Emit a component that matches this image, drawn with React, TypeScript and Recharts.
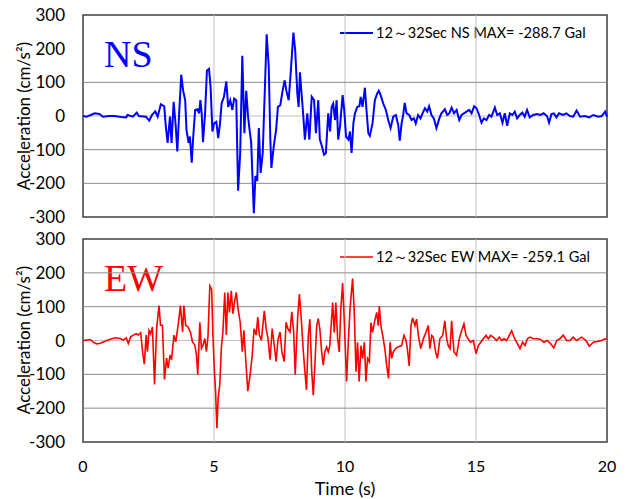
import React from 'react';
import { LineChart, Line, XAxis, YAxis, ReferenceLine, ReferenceArea, Customized } from 'recharts';

const yTicks = [-300, -200, -100, 0, 100, 200, 300];
const xTicks = [0, 5, 10, 15, 20];
const nsGridDark = [100, -100, -200];
const ewGridDark = [200, 100, -100, -200];
const zeroGrid = [0];
const timeGrid = [5, 10, 15];

const nsLegend = '12～32Sec NS MAX= -288.7 Gal';
const ewLegend = '12～32Sec EW MAX= -259.1 Gal';

const nsTime = [
  0, 0.13, 0.3, 0.44, 0.63, 0.76, 1.0, 1.2, 1.45, 1.65, 1.7, 1.9, 2.05, 2.13, 2.4, 2.53, 2.63, 2.76, 2.85, 2.97,
  3.1, 3.16, 3.23, 3.32, 3.38, 3.46, 3.54, 3.6, 3.67, 3.75, 3.82, 3.9, 3.95, 4.03, 4.08, 4.15, 4.2, 4.28, 4.37, 4.43,
  4.48, 4.53, 4.58, 4.66, 4.73, 4.81, 4.87, 4.94, 5.0, 5.09, 5.16, 5.23, 5.29, 5.38, 5.47, 5.54, 5.62, 5.7, 5.77, 5.85,
  5.92, 6.0, 6.08, 6.16, 6.23, 6.3, 6.35, 6.42, 6.52, 6.58, 6.65, 6.71, 6.78, 6.86, 6.96, 7.01, 7.09, 7.15, 7.19, 7.28,
  7.37, 7.44, 7.53, 7.62, 7.7, 7.76, 7.85, 7.92, 8.03, 8.1, 8.18, 8.23, 8.28, 8.41, 8.47, 8.56, 8.64, 8.73, 8.82, 8.89,
  8.98, 9.04, 9.12, 9.2, 9.27, 9.36, 9.43, 9.49, 9.55, 9.62, 9.68, 9.74, 9.81, 9.91, 9.97, 10.04, 10.13, 10.19, 10.25, 10.32,
  10.38, 10.47, 10.55, 10.6, 10.67, 10.76, 10.82, 10.89, 10.95, 11.05, 11.14, 11.23, 11.29, 11.36, 11.46, 11.56, 11.65, 11.74, 11.84, 11.94,
  12.03, 12.09, 12.16, 12.22, 12.28, 12.35, 12.45, 12.54, 12.63, 12.7, 12.79, 12.88, 12.96, 13.05, 13.14, 13.21, 13.3, 13.39, 13.49, 13.6,
  13.68, 13.81, 13.9, 13.98, 14.07, 14.16, 14.26, 14.36, 14.45, 14.54, 14.64, 14.74, 14.83, 14.93, 15.02, 15.12, 15.21, 15.3, 15.4, 15.5,
  15.59, 15.72, 15.81, 15.91, 16.01, 16.1, 16.19, 16.29, 16.39, 16.48, 16.57, 16.67, 16.77, 16.86, 16.95, 17.05, 17.18, 17.33, 17.46, 17.58,
  17.71, 17.79, 17.88, 17.97, 18.07, 18.17, 18.32, 18.45, 18.58, 18.71, 18.84, 18.97, 19.16, 19.32, 19.48, 19.67, 19.8, 19.93, 20.0,
];
const nsAccel = [
  0, -2, 3, 8, 6, -2, 0, 0, -3, -4, 3, -2, 10, 0, -2, -14, 3, 14, -2, 35,
  29, -31, -80, -2, -80, 42, -31, -105, 8, 123, 76, 47, -41, -80, -61, -139, -70, 18, 20, 8,
  47, 8, -78, 8, 135, 140, 86, -46, -22, -17, -66, -22, 37, 57, 103, 27, 47, 18, 52, 47,
  -222, -110, 179, -51, 75, -2, -36, -80, -289, -178, -193, -36, -169, -110, 125, 243, 145, -70, -154, -90,
  -41, 27, 32, 76, 106, 76, 47, 120, 248, 194, 67, 27, 130, -2, -70, 8, -70, 57, 47, -51,
  47, -70, -90, -115, -110, 8, -46, 27, 37, -12, 47, -70, -31, 62, 18, -61, -70, -46, -110, -22,
  8, 27, 29, 57, 27, 84, 18, -51, -59, -22, 47, 67, 75, 62, 37, 18, -12, -36, -2, 3,
  -26, -73, -22, 3, 39, 8, 3, -12, -7, -22, 3, -7, 8, 23, 13, 29, 3, -7, -36, -7,
  8, 20, 3, 8, 25, 8, 18, -12, 3, 8, 13, 18, 8, 29, 23, 3, -20, -7, -12, 3,
  -2, 25, 3, 8, -20, 8, -29, 8, 3, 13, -7, 3, 10, -2, 18, -4, 3, 6, 3, 8,
  0, -20, 6, 8, -4, 8, 3, 8, 0, -2, 16, -2, 0, -4, 3, -2, 0, 13, -2,
];

const ewTime = [
  0, 0.13, 0.28, 0.41, 0.53, 0.66, 0.85, 1.04, 1.23, 1.42, 1.54, 1.65, 1.73, 1.82, 1.92, 2.03, 2.11, 2.2, 2.28, 2.34,
  2.41, 2.46, 2.52, 2.58, 2.65, 2.73, 2.81, 2.9, 2.96, 3.03, 3.11, 3.19, 3.25, 3.32, 3.38, 3.47, 3.54, 3.63, 3.72, 3.8,
  3.85, 3.92, 4.01, 4.1, 4.18, 4.27, 4.33, 4.38, 4.46, 4.52, 4.58, 4.65, 4.71, 4.77, 4.84, 4.91, 4.96, 5.01, 5.06, 5.11,
  5.16, 5.22, 5.28, 5.34, 5.41, 5.47, 5.53, 5.59, 5.66, 5.72, 5.78, 5.85, 5.92, 6.0, 6.08, 6.14, 6.2, 6.29, 6.38, 6.46,
  6.53, 6.61, 6.67, 6.73, 6.81, 6.92, 6.99, 7.06, 7.14, 7.22, 7.3, 7.37, 7.44, 7.52, 7.59, 7.68, 7.75, 7.82, 7.9, 7.97,
  8.04, 8.1, 8.19, 8.26, 8.34, 8.41, 8.47, 8.53, 8.6, 8.66, 8.73, 8.79, 8.85, 8.92, 8.98, 9.04, 9.11, 9.17, 9.23, 9.3,
  9.36, 9.42, 9.53, 9.59, 9.65, 9.72, 9.78, 9.84, 9.91, 9.98, 10.06, 10.12, 10.19, 10.29, 10.35, 10.42, 10.48, 10.54, 10.61, 10.67,
  10.74, 10.8, 10.86, 10.93, 10.99, 11.05, 11.12, 11.21, 11.27, 11.31, 11.37, 11.46, 11.52, 11.59, 11.66, 11.72, 11.78, 11.84, 11.93, 12.03,
  12.16, 12.25, 12.33, 12.38, 12.45, 12.52, 12.58, 12.67, 12.73, 12.8, 12.89, 12.99, 13.09, 13.18, 13.24, 13.31, 13.37, 13.46, 13.53, 13.62,
  13.73, 13.81, 13.88, 13.94, 14.01, 14.07, 14.16, 14.26, 14.36, 14.45, 14.54, 14.62, 14.7, 14.79, 14.9, 15.0, 15.09, 15.18, 15.28, 15.38,
  15.47, 15.56, 15.66, 15.79, 15.89, 15.98, 16.07, 16.17, 16.27, 16.36, 16.45, 16.55, 16.68, 16.78, 16.87, 16.96, 17.06, 17.19, 17.34, 17.47,
  17.59, 17.72, 17.85, 17.97, 18.08, 18.2, 18.33, 18.46, 18.59, 18.71, 18.84, 19.03, 19.2, 19.32, 19.48, 19.63, 19.79, 19.92, 20.0,
];
const ewAccel = [
  0, 1, 3, -6, -10, -8, -2, 4, 8, 6, 1, 8, -9, 11, 16, 20, 16, 23, -38, -70,
  16, -33, 30, 20, 40, -130, 35, 103, 45, 45, -115, -52, -82, -43, -57, 16, -4, 45, 103, 25,
  103, 45, 40, 25, -4, -14, -43, -101, 54, -23, -14, 6, -33, 11, 161, 151, 16, -82, -150, -259,
  -169, -130, -23, 25, 142, 16, 142, 83, 147, 79, 113, 142, 93, 54, -33, 30, -43, -150, -101, -43,
  35, 16, 69, 16, 1, 88, 35, 6, -57, 35, -14, -62, 1, 25, -33, -62, 54, 35, 25, 85,
  25, -101, 64, 137, 53, -34, -92, -146, 15, 63, -92, -162, -73, 44, 65, 34, -34, -73, -34, -19,
  -34, -15, 112, 24, 112, 5, -34, 92, 170, 44, -121, -15, 92, 183, 92, -92, -5, -121, -15, -53,
  -5, -121, -53, -63, 53, 24, 53, 83, 44, 102, 44, 5, -24, -73, -112, -5, -53, -34, -24, -19,
  -15, 15, 0, -24, -75, 44, 67, 44, 63, 15, -24, 5, 24, 44, -24, 15, 10, -34, -53, 5,
  15, 58, 5, -15, -24, 58, -34, -44, 5, 29, 49, 15, 5, -5, 0, -39, -15, -5, 5, 15,
  5, 15, 10, 0, 10, 0, 5, 0, 15, 29, 10, -5, -24, -5, -15, 5, 10, 5, 5, 3,
  -5, 0, -10, -22, 0, 5, 16, 0, 0, 10, 0, 10, 0, -17, -5, -3, 0, 5, 3,
];

const nsData = nsTime.map((t, i) => ({ t, a: nsAccel[i] }));
const ewData = ewTime.map((t, i) => ({ t, a: ewAccel[i] }));

const FONT = 'Lato, "Liberation Sans", sans-serif';
const DARK_GRID = '#8c8c8c';
const LIGHT_GRID = '#c0c0c0';

function gridLines(dark: number[]) {
  return [
    ...zeroGrid.map((v) => <ReferenceLine key={'z' + v} y={v} stroke={LIGHT_GRID} strokeWidth={1} />),
    ...timeGrid.map((v) => <ReferenceLine key={'t' + v} x={v} stroke={LIGHT_GRID} strokeWidth={1} />),
    ...dark.map((v) => <ReferenceLine key={'d' + v} y={v} stroke={DARK_GRID} strokeWidth={1} />),
  ];
}

function Panel({
  data, color, strokeWidth, name, legend, bottom, gridDark, chartTop, height,
}: any) {
  const marginTop = bottom ? 14 : 15;
  return (
    <div style={{ position: 'absolute', left: 0, top: chartTop, width: 626, height }}>
      <LineChart
        width={626}
        height={height}
        data={data}
        margin={{ top: marginTop, right: 19, bottom: bottom ? 0 : 13, left: 0 }}
      >
        <XAxis
          dataKey="t"
          type="number"
          domain={[0, 20]}
          ticks={xTicks}
          hide={!bottom}
          height={57}
          tickLine={false}
          axisLine={false}
          tickMargin={13}
          tick={{ fontSize: 16, fill: '#000', fontFamily: FONT }}
          interval={0}
        />
        <YAxis
          type="number"
          domain={[-300, 300]}
          ticks={yTicks}
          width={83}
          tickLine={false}
          axisLine={false}
          tickMargin={12}
          interval={0}
          allowDataOverflow
          tick={{ fontSize: 17, fill: '#000', fontFamily: FONT }}
        />
        {gridLines(gridDark)}
        <ReferenceArea x1={0} x2={20} y1={-300} y2={300} fill="none" fillOpacity={0} stroke="#404040" strokeWidth={1.5} />
        <Customized
          component={() => (
            <g>
              {bottom && <rect x={84} y={marginTop + 16} width={81} height={44} fill="#fff" />}
              <text x={104} y={marginTop + 52} fontFamily='"Liberation Serif", "Times New Roman", serif' fontSize={38} fill={color}>
                {name}
              </text>
              <line x1={340} x2={373} y1={marginTop + 18} y2={marginTop + 18} stroke={color} strokeWidth={strokeWidth} />
              <text x={376} y={marginTop + 23} fontFamily={FONT} fontSize={14.5} fill="#000">
                {legend}
              </text>
              <text
                x={30}
                y={marginTop + 101}
                transform={`rotate(-90 30 ${marginTop + 101})`}
                textAnchor="middle"
                fontFamily={FONT}
                fontSize={17}
                fill="#000"
              >
                Acceleration (cm/s²)
              </text>
              {bottom && (
                <text x={345} y={270} textAnchor="middle" fontFamily={FONT} fontSize={18} fill="#000">
                  Time (s)
                </text>
              )}
            </g>
          )}
        />
        <Line
          type="linear"
          dataKey="a"
          stroke={color}
          strokeWidth={strokeWidth}
          dot={false}
          activeDot={false}
          isAnimationActive={false}
        />
      </LineChart>
    </div>
  );
}

export default function App() {
  return (
    <div style={{ position: 'absolute', left: 0, top: 0, width: 626, height: 499, background: '#fff' }}>
      <Panel data={nsData} color="#0000ff" strokeWidth={2} name="NS" legend={nsLegend} bottom={false} gridDark={nsGridDark} chartTop={0} height={230} />
      <Panel data={ewData} color="#ff0000" strokeWidth={1.6} name="EW" legend={ewLegend} bottom gridDark={ewGridDark} chartTop={225} height={274} />
    </div>
  );
}
